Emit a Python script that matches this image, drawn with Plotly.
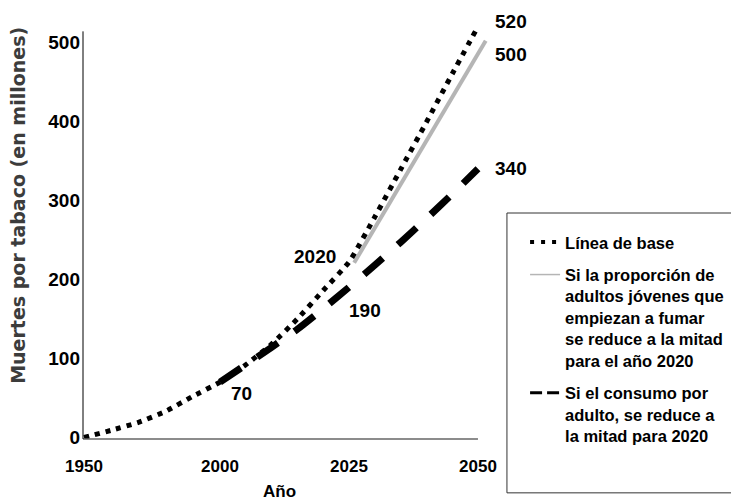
import plotly.graph_objects as go

# ---- data ----
years_base = [1950, 1960, 1970, 1980, 1990, 2000, 2005, 2010, 2015, 2020, 2025, 2030, 2035, 2040, 2045, 2050]
deaths_base = [0, 9, 19, 33, 52, 70, 92, 118, 150, 186, 222, 279, 339, 399, 460, 520]

years_youth = [2026, 2051.5]
deaths_youth = [221, 502]

years_consumption = [2000, 2005, 2010, 2015, 2020, 2025, 2030, 2035, 2040, 2045, 2050]
deaths_consumption = [70, 92, 114, 137, 163, 190, 218, 247, 277, 308, 340]

x_tick_years = [1950, 2000, 2025, 2050]
y_tick_values = [0, 100, 200, 300, 400, 500]

name_base = "Línea de base"
name_youth = "Si la proporción de<br>adultos jóvenes que<br>empiezan a fumar<br>se reduce a la mitad<br>para el año 2020"
name_consumption = "Si el consumo por<br>adulto, se reduce a<br>la mitad para 2020"


# the original axis compresses 1950-2000 relative to 2000-2050
def axis_pos(year):
    if year >= 2000:
        return year
    return 2000 - (2000 - year) * 0.527


def to_pos(years):
    return [axis_pos(y) for y in years]


FONT = "Liberation Sans, Arial, sans-serif"

fig = go.Figure()

fig.add_trace(go.Scatter(
    x=to_pos(years_youth), y=deaths_youth, mode="lines",
    line=dict(color="#b5b5b5", width=4), showlegend=False, hoverinfo="skip"))
fig.add_trace(go.Scatter(
    x=to_pos(years_base), y=deaths_base, mode="lines",
    line=dict(color="black", width=5, dash="5px,6px", shape="spline", smoothing=0.5),
    showlegend=False, hoverinfo="skip"))
fig.add_trace(go.Scatter(
    x=to_pos(years_consumption), y=deaths_consumption, mode="lines",
    line=dict(color="black", width=7, dash="25px,20px", shape="spline", smoothing=0.5),
    showlegend=False, hoverinfo="skip"))

# legend-only entries with the reference's legend styles
fig.add_trace(go.Scatter(x=[None], y=[None], mode="lines", name=name_base, legendgroup="a",
                         line=dict(color="black", width=4, dash="4px,7px")))
fig.add_trace(go.Scatter(x=[None], y=[None], mode="lines", name=name_youth, legendgroup="b",
                         line=dict(color="#b5b5b5", width=1.5)))
fig.add_trace(go.Scatter(x=[None], y=[None], mode="lines", name=name_consumption, legendgroup="c",
                         line=dict(color="black", width=3, dash="12px,5px")))

x_left = 1973.45
x_right = 2053.3

fig.update_layout(
    width=731, height=502,
    margin=dict(l=83, r=236, t=15, b=63, autoexpand=False),
    paper_bgcolor="white", plot_bgcolor="white",
    font=dict(family=FONT, color="black"),
    xaxis=dict(range=[x_left, x_right], showgrid=False, zeroline=False, showline=False,
               tickvals=to_pos(x_tick_years), ticktext=[str(y) for y in x_tick_years],
               ticks="", ticklabelstandoff=15,
               tickfont=dict(family=FONT, size=17, weight=700, color="black")),
    yaxis=dict(range=[-2, 534.7], showgrid=False, zeroline=False, showline=False,
               tickvals=y_tick_values, ticks="", ticklabelstandoff=2,
               tickfont=dict(family=FONT, size=19, weight=700, color="black")),
    legend=dict(x=1.073, y=0.505, xanchor="left", yanchor="top",
                bgcolor="rgba(0,0,0,0)", borderwidth=0, valign="top",
                tracegroupgap=8,
                font=dict(family=FONT, size=16.5, weight=700, color="black")),
    showlegend=True,
)

# axis lines
fig.add_shape(type="line", xref="x", yref="paper", x0=x_left, x1=2050, y0=0, y1=0,
              line=dict(color="#666666", width=1.5))
fig.add_shape(type="line", xref="paper", yref="y", x0=0, x1=0, y0=-2, y1=514,
              line=dict(color="black", width=1))

# legend frame: top, left and bottom sides; it runs to the right edge as in the reference
frame_x0, frame_x1, frame_y0, frame_y1 = 1.029, 1.573, -0.127, 0.533
frame_style = dict(color="#333333", width=1)
fig.add_shape(type="line", xref="paper", yref="paper", x0=frame_x0, x1=frame_x1,
              y0=frame_y1, y1=frame_y1, line=frame_style)
fig.add_shape(type="line", xref="paper", yref="paper", x0=frame_x0, x1=frame_x1,
              y0=frame_y0, y1=frame_y0, line=frame_style)
fig.add_shape(type="line", xref="paper", yref="paper", x0=frame_x0, x1=frame_x0,
              y0=frame_y0, y1=frame_y1, line=frame_style)

# value labels
labels = [
    (axis_pos(2050), 520, "520", "left", 15, 5),
    (axis_pos(2050), 500, "500", "left", 15, -12),
    (axis_pos(2050), 340, "340", "left", 15, 0),
    (axis_pos(2026), 221, "2020", "right", -16, 6),
    (axis_pos(2025), 190, "190", "center", 16, -23),
    (axis_pos(2000), 70, "70", "center", 22, -11),
]
for x, y, t, anchor, xs, ys in labels:
    fig.add_annotation(x=x, y=y, text=t, showarrow=False, xanchor=anchor, yanchor="middle",
                       xshift=xs, yshift=ys,
                       font=dict(family=FONT, size=19, weight=700, color="black"))

# axis titles
fig.add_annotation(xref="paper", yref="paper", x=0.478, y=-0.123, text="Año", showarrow=False,
                   xanchor="center", yanchor="middle",
                   font=dict(family=FONT, size=17, weight=700, color="black"))
fig.add_annotation(xref="paper", yref="paper", x=-0.158, y=0.552, text="Muertes por tabaco (en millones)",
                   showarrow=False, textangle=-90, xanchor="center", yanchor="middle",
                   font=dict(family="DejaVu Sans, sans-serif", size=19, weight=700, color="#3c3c3c"))

fig.write_html("out.html", config={"displayModeBar": False},
               post_script="document.body.style.margin='0';")
